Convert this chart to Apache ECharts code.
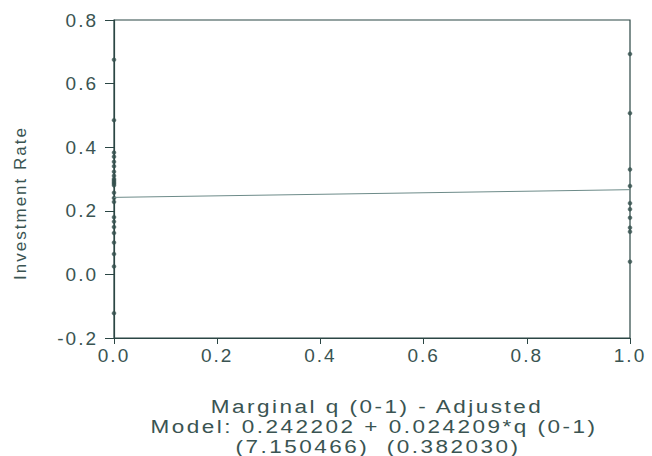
<!DOCTYPE html>
<html>
<head>
<meta charset="utf-8">
<script src="https://cdn.jsdelivr.net/npm/echarts@6/dist/echarts.min.js"></script>
<style>
  html, body { margin: 0; padding: 0; background: #ffffff; }
  #chart { width: 652px; height: 456px; }
  #chart text { letter-spacing: 2px; }
</style>
</head>
<body>
<div id="chart"></div>
<script>
// ---- data ----
const xTickLabels = ['0.0', '0.2', '0.4', '0.6', '0.8', '1.0'];
const yTickLabels = ['-0.2', '0.0', '0.2', '0.4', '0.6', '0.8'];
const qValues = [0, 1];
// investment rate observations at q = 0
const investAtQ0 = [0.675, 0.485, 0.383, 0.370, 0.354, 0.340, 0.323, 0.310, 0.300, 0.295, 0.290,
                    0.285, 0.280, 0.257, 0.240, 0.228, 0.180, 0.166, 0.149, 0.130, 0.100, 0.064,
                    0.025, -0.122];
// investment rate observations at q = 1
const investAtQ1 = [0.693, 0.507, 0.330, 0.278, 0.224, 0.205, 0.178, 0.147, 0.134, 0.040];
// fitted model coefficients and t-statistics
const modelCoef = [0.242202, 0.024209];
const modelTStat = ['7.150466', '0.382030'];
const xAxisTitle = 'Marginal q (0-1) - Adjusted';
const yAxisTitle = 'Investment Rate';

// ---- build ----
const scatterData = []
  .concat(investAtQ0.map(v => [qValues[0], v]))
  .concat(investAtQ1.map(v => [qValues[1], v]));
const fitData = qValues.map(q => [q, modelCoef[0] + modelCoef[1] * q]);

const axisColor = '#2b4644';
const textColor = '#3a5452';

const chart = echarts.init(document.getElementById('chart'), null, { renderer: 'svg' });
chart.setOption({
  animation: false,
  backgroundColor: '#ffffff',
  grid: {
    left: 114, right: 22, top: 20, bottom: 118,
    show: true, borderColor: axisColor, borderWidth: 1.2, backgroundColor: 'transparent'
  },
  xAxis: {
    type: 'value', min: 0, max: 1, interval: 0.2,
    axisLine: { show: true, onZero: false, lineStyle: { color: axisColor, width: 1.2 } },
    axisTick: { show: true, inside: false, length: 6, lineStyle: { color: axisColor } },
    splitLine: { show: false },
    axisLabel: {
      color: textColor, fontFamily: 'Liberation Sans', fontSize: 19, margin: 8,
      formatter: (v) => xTickLabels[Math.round(v / 0.2)]
    }
  },
  yAxis: {
    type: 'value', min: -0.2, max: 0.8, interval: 0.2,
    axisLine: { show: true, onZero: false, lineStyle: { color: axisColor, width: 1.2 } },
    axisTick: { show: true, inside: false, length: 9, lineStyle: { color: axisColor } },
    splitLine: { show: false },
    axisLabel: {
      color: textColor, fontFamily: 'Liberation Sans', fontSize: 19, margin: 16,
      formatter: (v) => yTickLabels[Math.round((v + 0.2) / 0.2)]
    }
  },
  series: [
    {
      type: 'line', data: fitData, symbol: 'none', silent: true,
      lineStyle: { color: '#6d8b89', width: 1 }
    },
    {
      type: 'scatter', data: scatterData, clip: false,
      symbol: 'circle', symbolSize: 4,
      itemStyle: { color: '#34504e', borderColor: '#34504e', borderWidth: 0.5 }
    }
  ],
  graphic: [
    {
      type: 'text', x: 20, y: 203, rotation: Math.PI / 2,
      style: { text: yAxisTitle, font: '17px "Liberation Sans"', fill: textColor,
               align: 'center', verticalAlign: 'middle' }
    },
    {
      type: 'text', x: 377, y: 407, scaleX: 1.25,
      style: { text: xAxisTitle, font: '18px "Liberation Sans"', fill: textColor,
               align: 'center', verticalAlign: 'middle' }
    },
    {
      type: 'text', x: 374, y: 427, scaleX: 1.25,
      style: { text: 'Model: ' + modelCoef[0].toFixed(6) + ' + ' + modelCoef[1].toFixed(6) + '*q (0-1)',
               font: '18px "Liberation Sans"', fill: textColor,
               align: 'center', verticalAlign: 'middle' }
    },
    {
      type: 'text', x: 378, y: 447, scaleX: 1.25,
      style: { text: '(' + modelTStat[0] + ')  (' + modelTStat[1] + ')',
               font: '18px "Liberation Sans"', fill: textColor,
               align: 'center', verticalAlign: 'middle' }
    }
  ]
});
</script>
</body>
</html>
